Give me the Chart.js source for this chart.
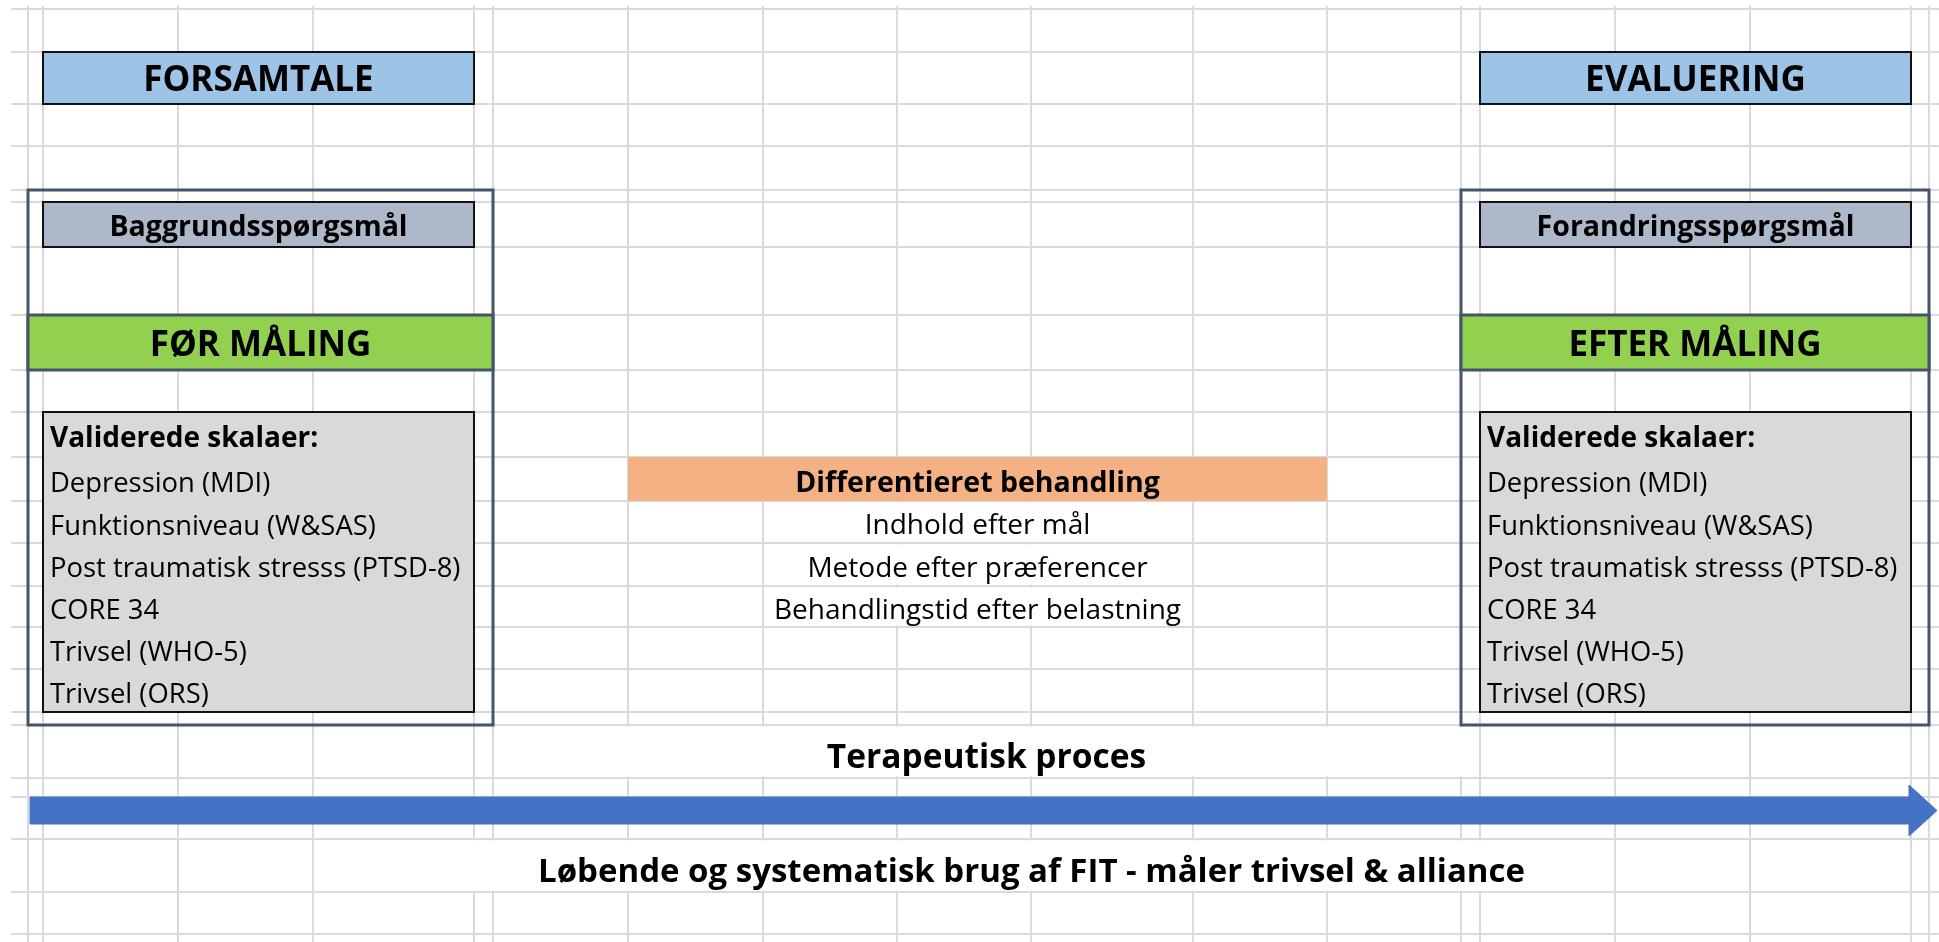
<!DOCTYPE html>
<html>
<head>
<meta charset="utf-8">
<script src="https://cdn.jsdelivr.net/npm/chart.js@4.4.1/dist/chart.umd.min.js"></script>
<style>
  html, body { margin: 0; padding: 0; background: #ffffff; }
</style>
</head>
<body>
<canvas id="sheet" width="1939" height="942"></canvas>
<script>

// sheet grid: column and row borders (sheet units = px of the screenshot)
var colEdges = [28, 43, 178, 313, 474, 493, 628, 763, 897, 1031, 1193, 1327, 1461, 1480, 1615, 1750, 1911, 1929];
var rowEdges = [9, 52, 104, 146, 190, 202, 247, 315, 370, 412, 457, 501, 543, 586, 627, 669, 712, 725, 778, 797, 839, 892, 934];

// texts
var headerLabels = ["FORSAMTALE", "EVALUERING"];
var questionLabels = ["Baggrundsspørgsmål", "Forandringsspørgsmål"];
var measureLabels = ["FØR MÅLING", "EFTER MÅLING"];
var scaleTitle = "Validerede skalaer:";
var scaleItems = ["Depression (MDI)", "Funktionsniveau (W&SAS)", "Post traumatisk stresss (PTSD-8)", "CORE 34", "Trivsel (WHO-5)", "Trivsel (ORS)"];
var treatmentTitle = "Differentieret behandling";
var treatmentItems = ["Indhold efter mål", "Metode efter præferencer", "Behandlingstid efter belastning"];
var processLabel = "Terapeutisk proces";
var fitLabel = "Løbende og systematisk brug af FIT - måler trivsel & alliance";

// which cells the blocks cover (index into colEdges / rowEdges)
var sideCols = [[1, 4], [13, 16]];
var frameCols = [[0, 5], [12, 17]];
var headerRows = [1, 2];
var frameRows = [4, 17];
var questionRows = [5, 6];
var measureRows = [7, 8];
var scaleRows = [9, 16];
var treatmentCols = [6, 11];
var treatmentRow = 10;
var processCols = [5, 13];
var processRow = 17;
var fitCols = [3, 15];
var fitRow = 20;

// arrow along the bottom (x from / to, y level)
var arrowRange = [30, 1937];
var arrowLevel = 810.5;

var gridColor = "#dadada";
var fontName = '"Open Sans", "DejaVu Sans", sans-serif';

function rectPts(c, r) {
  var x0 = colEdges[c[0]], x1 = colEdges[c[1]];
  var y0 = rowEdges[r[0]], y1 = rowEdges[r[1]];
  // last point repeats the 2nd so the corner joins
  return [{x: x0, y: y0}, {x: x1, y: y0}, {x: x1, y: y1}, {x: x0, y: y1}, {x: x0, y: y0}, {x: x1, y: y0}];
}

// white patch hiding grid lines where excel lets text overflow
function maskPts(c, r) {
  var x0 = colEdges[c[0]] - 3, x1 = colEdges[c[1]] + 3;
  var y0 = rowEdges[r] + 1.5, y1 = rowEdges[r + 1] - 1.5;
  return [{x: x0, y: y0}, {x: x1, y: y0}, {x: x1, y: y1}, {x: x0, y: y1}];
}

function arrowPts() {
  var a = arrowRange[0], b = arrowRange[1], m = arrowLevel;
  var shaft = 13.5, head = 25.5, headLen = 28;
  return [{x: a, y: m - shaft}, {x: b - headLen, y: m - shaft}, {x: b - headLen, y: m - head}, {x: b, y: m},
          {x: b - headLen, y: m + head}, {x: b - headLen, y: m + shaft}, {x: a, y: m + shaft}, {x: a, y: m - shaft}];
}

function shape(points, fillColor, lineColor, lw) {
  return {
    data: points,
    fill: fillColor ? "shape" : false,
    backgroundColor: fillColor || "rgba(0,0,0,0)",
    borderColor: lineColor || "rgba(0,0,0,0)",
    borderWidth: lw || 1,
    borderJoinStyle: "miter",
    pointRadius: 0,
    tension: 0
  };
}

var datasets = [];

// masks first
for (var k = 0; k < treatmentItems.length; k++) {
  datasets.push(shape(maskPts([8, 9], treatmentRow + 1 + k), "#ffffff"));
}
datasets.push(shape(maskPts([6, 12], processRow), "#ffffff"));
datasets.push(shape(maskPts([4, 13], fitRow), "#ffffff"));

for (var i = 0; i < 2; i++) {
  datasets.push(shape(rectPts(frameCols[i], frameRows), null, "#44546a", 3));
  datasets.push(shape(rectPts(frameCols[i], measureRows), "#92d050", "#44546a", 3));
  datasets.push(shape(rectPts(sideCols[i], headerRows), "#9dc3e6", "#111111", 2));
  datasets.push(shape(rectPts(sideCols[i], questionRows), "#adb9ca", "#111111", 2));
  datasets.push(shape(rectPts(sideCols[i], scaleRows), "#d9d9d9", "#111111", 2));
}

datasets.push(shape(rectPts(treatmentCols, [treatmentRow, treatmentRow + 1]), "#f4b183"));
datasets.push(shape(arrowPts(), "#4472c4", "#4472c4", 1));

// first listed is drawn first
datasets.forEach(function(d, n) { d.order = datasets.length - n; });

function midX(c) { return (colEdges[c[0]] + colEdges[c[1]]) / 2; }
function midY(r0, r1) { return (rowEdges[r0] + rowEdges[r1]) / 2; }

var sheetText = {
  id: "sheetText",
  afterDatasetsDraw: function(chart) {
    var ctx = chart.ctx;
    var xs = chart.scales.x, ys = chart.scales.y;

    function put(text, x, y, font, align) {
      ctx.font = font;
      ctx.textAlign = align || "center";
      ctx.textBaseline = "middle";
      ctx.fillStyle = "#000000";
      ctx.fillText(text, xs.getPixelForValue(x), ys.getPixelForValue(y));
    }

    ctx.save();
    for (var i = 0; i < 2; i++) {
      put(headerLabels[i], midX(sideCols[i]), midY(headerRows[0], headerRows[1]) + 3.5, "bold 35px " + fontName);
      put(questionLabels[i], midX(sideCols[i]), midY(questionRows[0], questionRows[1]) + 3, "bold 28.5px " + fontName);
      put(measureLabels[i], midX(frameCols[i]), midY(measureRows[0], measureRows[1]) + 3.5, "bold 35px " + fontName);

      var left = colEdges[sideCols[i][0]] + 7;
      var r = scaleRows[0];
      put(scaleTitle, left, midY(r, r + 1) + 5, "bold 28px " + fontName, "left");
      for (var k = 0; k < scaleItems.length; k++) {
        put(scaleItems[k], left, midY(r + 1 + k, r + 2 + k) + 5, "27.4px " + fontName, "left");
      }
    }

    put(treatmentTitle, midX(treatmentCols), midY(treatmentRow, treatmentRow + 1) + 4.5, "bold 28.5px " + fontName);
    for (var k = 0; k < treatmentItems.length; k++) {
      var rr = treatmentRow + 1 + k;
      put(treatmentItems[k], midX(treatmentCols), midY(rr, rr + 1) + 4.5, "28px " + fontName);
    }

    put(processLabel, midX(processCols), midY(processRow, processRow + 1) + 7, "bold 33.5px " + fontName);
    put(fitLabel, midX(fitCols), midY(fitRow, fitRow + 1) + 7, "bold 33px " + fontName);
    ctx.restore();
  }
};

new Chart(document.getElementById("sheet"), {
  type: "line",
  data: { datasets: datasets },
  options: {
    responsive: false,
    animation: false,
    devicePixelRatio: 1,
    events: [],
    layout: { padding: { left: 11, top: 6, right: 0, bottom: 0 } },
    plugins: { legend: { display: false }, tooltip: { enabled: false } },
    scales: {
      x: {
        type: "linear", min: 11, max: 1939,
        afterBuildTicks: function(s) { s.ticks = colEdges.map(function(v) { return {value: v}; }); },
        ticks: { display: false },
        grid: { color: gridColor, lineWidth: 2, drawTicks: false },
        border: { display: false }
      },
      y: {
        type: "linear", reverse: true, min: 6, max: 942,
        afterBuildTicks: function(s) { s.ticks = rowEdges.map(function(v) { return {value: v}; }); },
        ticks: { display: false },
        grid: { color: gridColor, lineWidth: 2, drawTicks: false },
        border: { display: false }
      }
    }
  },
  plugins: [sheetText]
});
</script>
</body>
</html>
